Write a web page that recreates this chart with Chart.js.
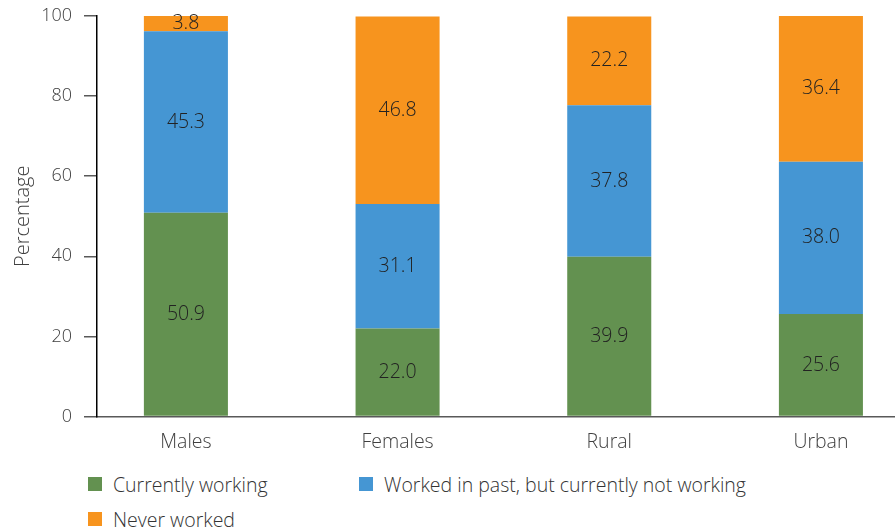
<!DOCTYPE html>
<html>
<head>
<meta charset="utf-8">
<script src="https://cdn.jsdelivr.net/npm/chart.js@4.4.1/dist/chart.umd.min.js"></script>
<style>
  html, body { margin: 0; padding: 0; background: #fff; }
  #wrap { position: relative; width: 895px; height: 531px; overflow: hidden; }
  #legend {
    position: absolute; left: 88px; top: 472px;
    display: grid; grid-template-columns: 271px auto; row-gap: 11px;
    font-family: 'Open Sans', sans-serif; font-weight: 300; font-size: 19.5px; color: #333;
  }
  #legend .item { display: flex; align-items: center; height: 24px; white-space: nowrap; }
  #legend .box { width: 14px; height: 14px; margin-right: 11px; }
  canvas { display: block; }
</style>
</head>
<body>
<div id="wrap">
  <canvas id="workChart" width="895" height="468"></canvas>
  <div id="legend"></div>
</div>
<script>
const categories = ['Males', 'Females', 'Rural', 'Urban'];
const currentlyWorking = [50.9, 22.0, 39.9, 25.6];
const workedInPast = [45.3, 31.1, 37.8, 38.0];
const neverWorked = [3.8, 46.8, 22.2, 36.4];
const yTicks = [0, 20, 40, 60, 80, 100];

const font = "'Open Sans', sans-serif";

// bars sit on a linear x axis so the plot can start to the left of the first category
const toPoints = vals => vals.map((v, i) => ({x: i, y: v}));

const barLabels = {
  id: 'barLabels',
  afterDatasetsDraw(chart) {
    const {ctx} = chart;
    ctx.save();
    ctx.font = '300 19.5px ' + font;
    ctx.fillStyle = '#222';
    ctx.textAlign = 'center';
    ctx.textBaseline = 'middle';
    chart.data.datasets.forEach((ds, di) => {
      chart.getDatasetMeta(di).data.forEach((bar, i) => {
        const v = ds.data[i].y;
        ctx.fillText(v.toFixed(1), bar.x, (bar.y + bar.base) / 2);
      });
    });
    ctx.restore();
  }
};

const ctx = document.getElementById('workChart').getContext('2d');
const chart = new Chart(ctx, {
  type: 'bar',
  data: {
    datasets: [
      {label: 'Currently working', data: toPoints(currentlyWorking), backgroundColor: '#639150'},
      {label: 'Worked in past, but currently not working', data: toPoints(workedInPast), backgroundColor: '#4596d3'},
      {label: 'Never worked', data: toPoints(neverWorked), backgroundColor: '#f7941e'}
    ]
  },
  options: {
    responsive: false,
    animation: false,
    categoryPercentage: 1,
    barPercentage: 0.397,
    layout: {padding: {left: 8, right: 0, top: 0, bottom: 0}},
    plugins: {
      legend: {display: false},
      tooltip: {enabled: false}
    },
    scales: {
      x: {
        type: 'linear',
        stacked: true,
        offset: false,
        bounds: 'data',
        min: -0.42,
        max: 3.35,
        grid: {display: false, drawTicks: false, offset: false},
        border: {display: true, color: '#595959', width: 1.5},
        afterBuildTicks: axis => { axis.ticks = categories.map((c, i) => ({value: i})); },
        ticks: {
          padding: 14,
          color: '#404040',
          font: {family: font, size: 19.5, weight: 300},
          callback: v => categories[v]
        }
      },
      y: {
        stacked: true,
        min: 0,
        max: 100,
        afterBuildTicks: axis => { axis.ticks = yTicks.map(v => ({value: v})); },
        afterFit: axis => { axis.width = 89; axis.paddingTop = 16; },
        title: {
          display: true,
          text: 'Percentage',
          color: '#404040',
          padding: {top: 3, bottom: 0},
          font: {family: font, size: 20, weight: 300}
        },
        grid: {drawOnChartArea: false, drawTicks: true, tickLength: 13, color: '#595959', lineWidth: 1.5},
        border: {display: true, color: '#000', width: 1.5},
        ticks: {
          padding: 12,
          color: '#404040',
          font: {family: font, size: 18, weight: 300}
        }
      }
    }
  },
  plugins: [barLabels]
});

// html legend, two items per row like the original
const legendEl = document.getElementById('legend');
chart.data.datasets.forEach(ds => {
  const item = document.createElement('div');
  item.className = 'item';
  const box = document.createElement('span');
  box.className = 'box';
  box.style.background = ds.backgroundColor;
  const txt = document.createElement('span');
  txt.textContent = ds.label;
  item.appendChild(box);
  item.appendChild(txt);
  legendEl.appendChild(item);
});
</script>
</body>
</html>
